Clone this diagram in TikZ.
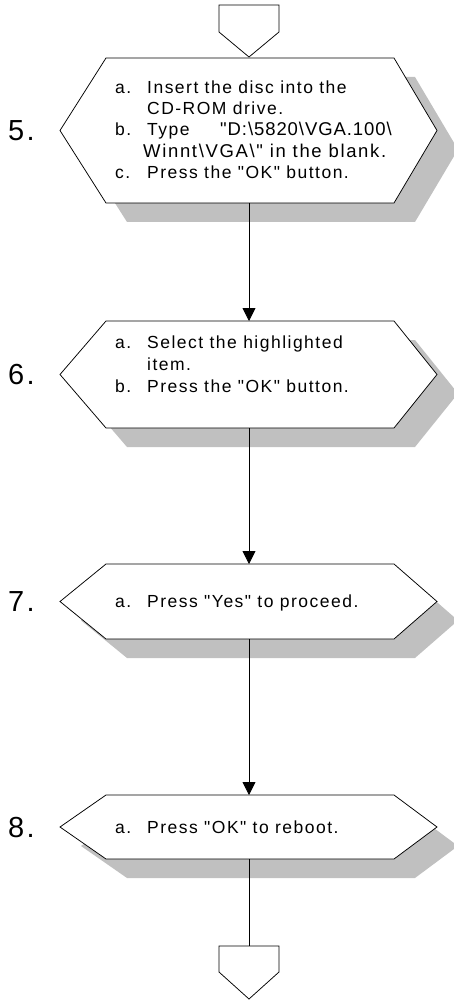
\documentclass[tikz,border=0pt]{standalone}
\usepackage{fontspec}
\setmainfont{Liberation Sans}
\newfontfamily\trk[LetterSpace=8.5]{Liberation Sans}
\newfontfamily\utrkA[LetterSpace=5]{Liberation Sans}
\newfontfamily\utrkB[LetterSpace=9]{Liberation Sans}
\newfontfamily\numf[LetterSpace=8]{Liberation Sans}
\usetikzlibrary{arrows.meta}
\definecolor{shadowgray}{RGB}{192,192,192}
\tikzset{
  outline/.style={draw=black, line width=0.75pt, line join=miter},
  shadowfill/.style={fill=shadowgray},
  conn/.style={draw=black, line width=0.75pt},
  arr/.style={conn, -{Triangle[width=13pt,length=13pt]}},
  num/.style={anchor=base west, inner sep=0pt, font=\numf\fontsize{29}{29}\selectfont},
  txt/.style={anchor=base west, inner sep=0pt, font=\trk\fontsize{17.5}{17.5}\selectfont},
  txtA/.style={anchor=base west, inner sep=0pt, font=\utrkA\fontsize{18.5}{18.5}\selectfont},
  txtB/.style={anchor=base west, inner sep=0pt, font=\utrkB\fontsize{18.5}{18.5}\selectfont},
}
\newcommand{\hexa}[3]{%
  \pgfmathsetmacro{\hm}{(#2+#3)/2}%
  \path[shadowfill] (127,#2+19) -- (415,#2+19) -- (458,\hm+19) -- (415,#3+19) -- (127,#3+19) -- (81,\hm+19) -- cycle;
  \path[outline, fill=white] (106,#2) -- (394,#2) -- (437,\hm) -- (394,#3) -- (106,#3) -- (60,\hm) -- cycle;
  \coordinate (#1t) at (249,#2);
  \coordinate (#1b) at (249,#3);
}
\begin{document}
\begin{tikzpicture}[x=1pt,y=-1pt]
\useasboundingbox (0,0) rectangle (454,1000);
\clip (0,0) rectangle (454,1000);
% top off-page connector
\path[outline, fill=white] (219,5) -- (279,5) -- (279,32) -- (249,57) -- (219,32) -- cycle;
\coordinate (ptip) at (249,57);
% hexagons
\hexa{h5}{58}{203}
\hexa{h6}{321}{428}
\hexa{h7}{564}{639}
\hexa{h8}{795}{859}
% bottom off-page connector
\path[outline, fill=white] (219,946) -- (279,946) -- (279,972) -- (249,999) -- (219,972) -- cycle;
\coordinate (pbtop) at (249,946);
% connectors
\draw[arr] (h5b) -- (h6t);
\draw[arr] (h6b) -- (h7t);
\draw[arr] (h7b) -- (h8t);
\draw[conn] (h8b) -- (pbtop);
% step numbers
\node[num] (n5) at (8,141) {5.};
\node[num] (n6) at (8,384) {6.};
\node[num] (n7) at (8,611) {7.};
\node[num] (n8) at (8,837) {8.};
% step 5 text
\node[txt] (s5a) at (115,93.5) {a.};
\node[txt] (s5a1) at (147,93.5) {Insert the disc into the};
\node[txt] (s5a2) at (147,114.5) {CD-ROM drive.};
\node[txt] (s5b) at (115,136) {b.};
\node[txt] (s5b1) at (147,136) {Type};
\node[txtA] (s5b2) at (220,136) {"D:\textbackslash 5820\textbackslash VGA.100\textbackslash};
\node[txtB] (s5b3) at (143,158) {Winnt\textbackslash VGA\textbackslash" in the blank.};
\node[txt] (s5c) at (115,179) {c.};
\node[txt] (s5c1) at (147,179) {Press the "OK" button.};
% step 6 text
\node[txt] (s6a) at (115,348) {a.};
\node[txt] (s6a1) at (147,348) {Select the highlighted};
\node[txt] (s6a2) at (147,370) {item.};
\node[txt] (s6b) at (115,392) {b.};
\node[txt] (s6b1) at (147,392) {Press the "OK" button.};
% step 7 text
\node[txt] (s7a) at (115,607) {a.};
\node[txt] (s7a1) at (147,607) {Press "Yes" to proceed.};
% step 8 text
\node[txt] (s8a) at (115,833) {a.};
\node[txt] (s8a1) at (147,833) {Press "OK" to reboot.};
\end{tikzpicture}
\end{document}
